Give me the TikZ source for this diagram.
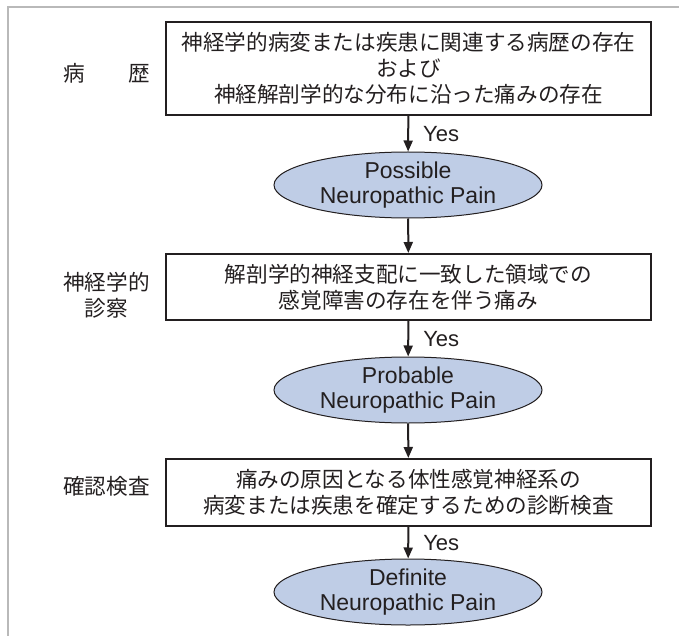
\documentclass[tikz,border=0pt]{standalone}
\usepackage{fontspec}
\setmainfont{Liberation Sans}
\newfontfamily\jpfont{Noto Sans CJK JP}
\definecolor{PAIN_Color}{RGB}{191, 205, 230}
\definecolor{INK_Color}{RGB}{35, 31, 32}
\usetikzlibrary{shapes.geometric, arrows.meta, positioning}
\tikzset{
	box node/.style={rectangle, draw=INK_Color, line width=1pt, inner sep=0, minimum width=242.5pt, align=center, text=INK_Color, font=\jpfont\fontsize{10.8}{13}\selectfont}, % the three criteria boxes
	pain node/.style={ellipse, draw=INK_Color, line width=.5pt, fill=PAIN_Color, inner sep=0, minimum width=134pt, minimum height=33pt, align=center, text=INK_Color, font=\fontsize{11.5}{12.5}\selectfont}, % grades of pain
	side label/.style={align=center, text=INK_Color, font=\jpfont\fontsize{10.8}{13}\selectfont},
	yes label/.style={right, inner sep=0, xshift=7pt, text=INK_Color, font=\fontsize{11}{12}\selectfont},
	flow arrow/.style={line width=1pt, draw=INK_Color, -{Triangle[length=5.5pt,width=4.5pt]}},
	%frame line/.style={gray!60}
    }

\begin{document}
\begin{tikzpicture}
    [x=0.5pt, y=-0.5pt%, pixel units
    ]
\useasboundingbox (0,0) rectangle (679,636);

\draw[gray!55, line width=.6pt] (679,7) -- (8,7) -- (8,636);

\node[box node, minimum height=46.5pt] (b1) at (408.5,68.5) {神経学的病変または疾患に関連する病歴の存在\\および\\神経解剖学的な分布に沿った痛みの存在};
\node[box node, minimum height=33pt] (b2) at (408.5,287) {解剖学的神経支配に一致した領域での\\感覚障害の存在を伴う痛み};
\node[box node, minimum height=33.5pt] (b3) at (408.5,492.5) {痛みの原因となる体性感覚神経系の\\病変または疾患を確定するための診断検査};

\node[pain node] (e1) at (408,185) {Possible\\Neuropathic Pain};
\node[pain node] (e2) at (408,390) {Probable\\Neuropathic Pain};
\node[pain node] (e3) at (408,592) {Definite\\Neuropathic Pain};

\node[side label] (l1) at (106.5,73) {病　　歴};
\node[side label] (l2) at (106.5,295) {神経学的\\診察};
\node[side label] (l3) at (106.5,486) {確認検査};

\draw[flow arrow] (b1) -- node[yes label] (y1) {Yes} (e1);
\draw[flow arrow] (e1) -- (b2);
\draw[flow arrow] (b2) -- node[yes label] (y2) {Yes} (e2);
\draw[flow arrow] (e2) -- (b3);
\draw[flow arrow] (b3) -- node[yes label] (y3) {Yes} (e3);
\end{tikzpicture}
\end{document}
